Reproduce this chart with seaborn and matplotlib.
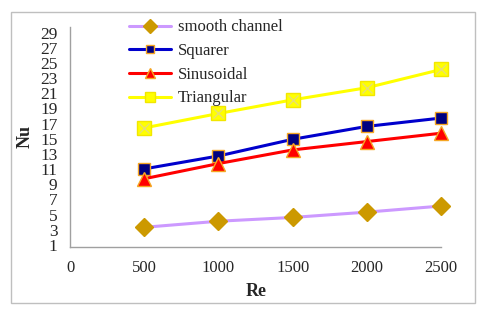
import matplotlib
matplotlib.use('Agg')
import pandas as pd
import matplotlib.pyplot as plt
import seaborn as sns
from matplotlib.patches import Rectangle

# data
re_values = [500, 1000, 1500, 2000, 2500]
smooth = [3.6, 4.4, 4.9, 5.6, 6.4]
squarer = [11.3, 13.0, 15.2, 16.9, 18.0]
sinusoidal = [10.0, 12.0, 13.8, 14.9, 16.0]
triangular = [16.7, 18.6, 20.4, 22.0, 24.4]
series_names = ['smooth channel', 'Squarer', 'Sinusoidal', 'Triangular']
x_ticks = [0, 500, 1000, 1500, 2000, 2500]
y_ticks = list(range(1, 30, 2))

df = pd.DataFrame({
    'Re': re_values * 4,
    'Nu': smooth + squarer + sinusoidal + triangular,
    'series': [n for n in series_names for _ in re_values],
})

sns.set_style('white')
plt.rcParams['font.family'] = ['Liberation Serif', 'DejaVu Serif']

styles = {
    'smooth channel': dict(color='#CC99FF', marker='D', mfc='#CC9900', mec='#CC9900', ms=9),
    'Squarer': dict(color='#0000CC', marker='s', mfc='#000080', mec='#F5A623', ms=8.5),
    'Sinusoidal': dict(color='#FF0000', marker='^', mfc='#FF0000', mec='#F5A623', ms=10),
    'Triangular': dict(color='#FFFF00', marker='s', mfc='#FFFF00', mec='#F2E600', ms=10),
}

fig = plt.figure(figsize=(4.8, 3.09), dpi=100)
ax = fig.add_axes([0.146, 0.2006, 0.773, 0.712])

for name in series_names:
    st = styles[name]
    sub = df[df['series'] == name]
    sns.lineplot(data=sub, x='Re', y='Nu', ax=ax, color=st['color'], lw=2.2,
                 marker=st['marker'], markersize=st['ms'],
                 markerfacecolor=st['mfc'], markeredgecolor=st['mec'],
                 markeredgewidth=1, label=name, clip_on=False)

# the "x" inside the triangular squares
ax.plot(re_values, triangular, ls='none', marker='x', ms=7, mew=1,
        color='#E8E070', clip_on=False)

ax.set_xlim(0, 2500)
ax.set_ylim(1, 30)
ax.set_xticks(x_ticks)
ax.set_yticks(y_ticks)
ax.tick_params(axis='x', length=4, color='#A0A0A0', labelsize=12, pad=5, direction='out')
ax.tick_params(axis='y', length=0, labelsize=12.5, pad=9)
for t in ax.get_yticklabels():
    t.set_verticalalignment('center')

for side in ['top', 'right']:
    ax.spines[side].set_visible(False)
for side in ['left', 'bottom']:
    ax.spines[side].set_color('#A0A0A0')
    ax.spines[side].set_linewidth(1)

ax.set_xlabel('')
ax.set_ylabel('')
fig.text(256 / 480, 1 - 291 / 309, 'Re', fontsize=13, fontweight='bold',
         ha='center', va='center')
fig.text(25 / 480, 1 - 137 / 309, 'Nu', fontsize=13, fontweight='bold',
         ha='center', va='center', rotation=90)

leg = ax.legend(loc='upper left', bbox_to_anchor=(0.142, 1.065), frameon=False,
                fontsize=12, handlelength=2.5, labelspacing=0.46, borderaxespad=0,
                handletextpad=0.4, markerscale=0.75)

# outer chart border
fig.patches.append(Rectangle((11 / 480, 6 / 309), 464 / 480, 291 / 309,
                             transform=fig.transFigure, fill=False,
                             edgecolor='#BFBFBF', lw=1))

fig.savefig('out.png', dpi=100)
